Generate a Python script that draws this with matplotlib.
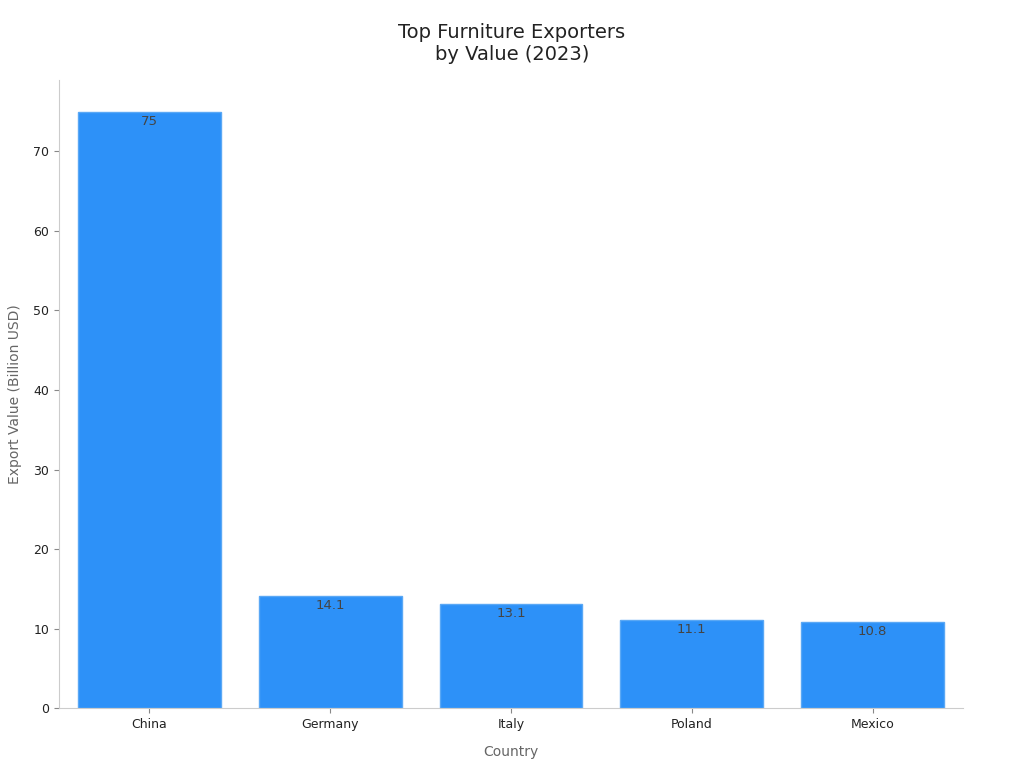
import matplotlib
matplotlib.use("Agg")
import matplotlib.pyplot as plt

countries = ["China", "Germany", "Italy", "Poland", "Mexico"]
values = [75, 14.1, 13.1, 11.1, 10.8]
labels = ["75", "14.1", "13.1", "11.1", "10.8"]

fig = plt.figure(figsize=(10.24, 7.68), dpi=100)
ax = fig.add_axes([0.0576, 0.078, 0.8828, 0.818])
bars = ax.bar(range(len(countries)), values, width=0.79, color="#2d91f8",
              edgecolor="#5aa8f5", linewidth=1)
for b, t in zip(bars, labels):
    ax.text(b.get_x() + b.get_width() / 2, b.get_height() - 0.4, t,
            ha="center", va="top", fontsize=9.5, color="#444444")
ax.set_xlim(-0.5, 4.5)
ax.set_ylim(0, 79)
ax.set_xticks(range(len(countries)))
ax.set_xticklabels(countries)
ax.set_yticks(range(0, 71, 10))
ax.tick_params(labelsize=9, colors="#222222")
ax.tick_params(axis="both", color="#888888")
for s in ["top", "right"]:
    ax.spines[s].set_visible(False)
for s in ["left", "bottom"]:
    ax.spines[s].set_color("#cccccc")
ax.set_xlabel("Country", fontsize=10, color="#666666", labelpad=10)
ax.set_ylabel("Export Value (Billion USD)", fontsize=10, color="#666666", labelpad=8)
fig.suptitle("Top Furniture Exporters\nby Value (2023)", fontsize=14, color="#222222", y=0.97)
fig.savefig("out.png", dpi=100)
